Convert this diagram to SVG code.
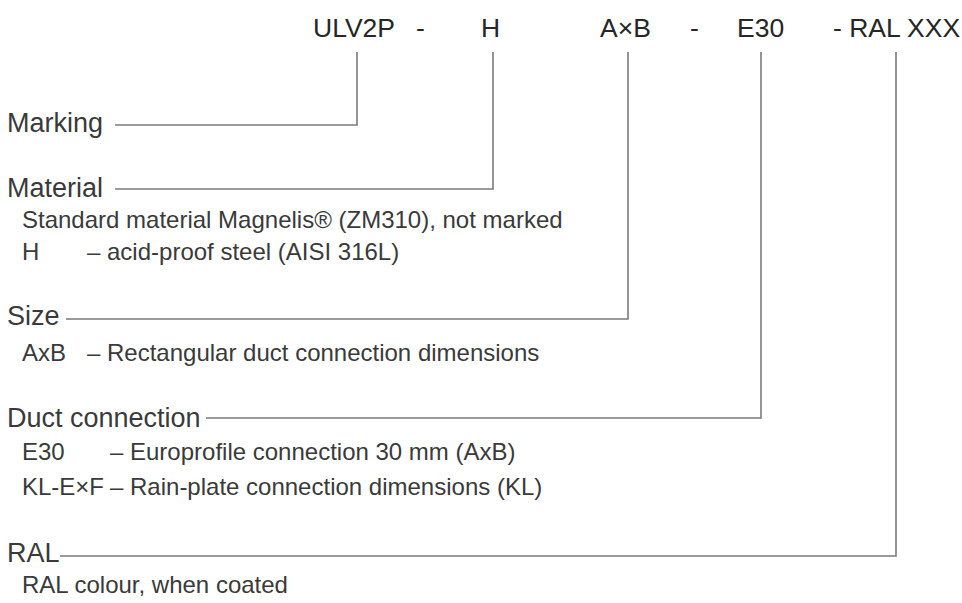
<svg xmlns="http://www.w3.org/2000/svg" width="962" height="603" viewBox="0 0 962 603">
<style>
text{font-family:"Liberation Sans",Arial,Helvetica,sans-serif;fill:#3a3a3a}
.code{font-size:26.5px;fill:#262626}
.head{font-size:27px}
.sub{font-size:24px}
.ln{fill:none;stroke:#7a7a7a;stroke-width:1.6}
</style>
<rect width="962" height="603" fill="#ffffff"/>
<g id="code">
<text class="code" x="313" y="37">ULV2P</text>
<text class="code" x="416" y="37">-</text>
<text class="code" x="481" y="37">H</text>
<text class="code" x="600" y="37">A×B</text>
<text class="code" x="690" y="37">-</text>
<text class="code" x="737" y="37">E30</text>
<text class="code" x="833" y="37">- RAL XXX</text>
</g>
<g id="connectors">
<polyline class="ln" points="357,52 357,125 115,125"/>
<polyline class="ln" points="493,52 493,189 115,189"/>
<polyline class="ln" points="628,52 628,319 66,319"/>
<polyline class="ln" points="761,52 761,418 206,418"/>
<polyline class="ln" points="896,52 896,556 60,556"/>
</g>
<g id="marking">
<text class="head" x="7" y="132">Marking</text>
</g>
<g id="material">
<text class="head" x="7" y="197">Material</text>
<text class="sub" x="22" y="228">Standard material Magnelis® (ZM310), not marked</text>
<text class="sub" x="22" y="260">H</text>
<text class="sub" x="87" y="260">– acid-proof steel (AISI 316L)</text>
</g>
<g id="size">
<text class="head" x="7" y="325">Size</text>
<text class="sub" x="22" y="361">AxB</text>
<text class="sub" x="87" y="361">– Rectangular duct connection dimensions</text>
</g>
<g id="duct">
<text class="head" x="7" y="427">Duct connection</text>
<text class="sub" x="22" y="460">E30</text>
<text class="sub" x="110" y="460">– Europrofile connection 30 mm (AxB)</text>
<text class="sub" x="22" y="495">KL-E×F</text>
<text class="sub" x="110" y="495">– Rain-plate connection dimensions (KL)</text>
</g>
<g id="ral">
<text class="head" x="7" y="562">RAL</text>
<text class="sub" x="22" y="593">RAL colour, when coated</text>
</g>
</svg>
